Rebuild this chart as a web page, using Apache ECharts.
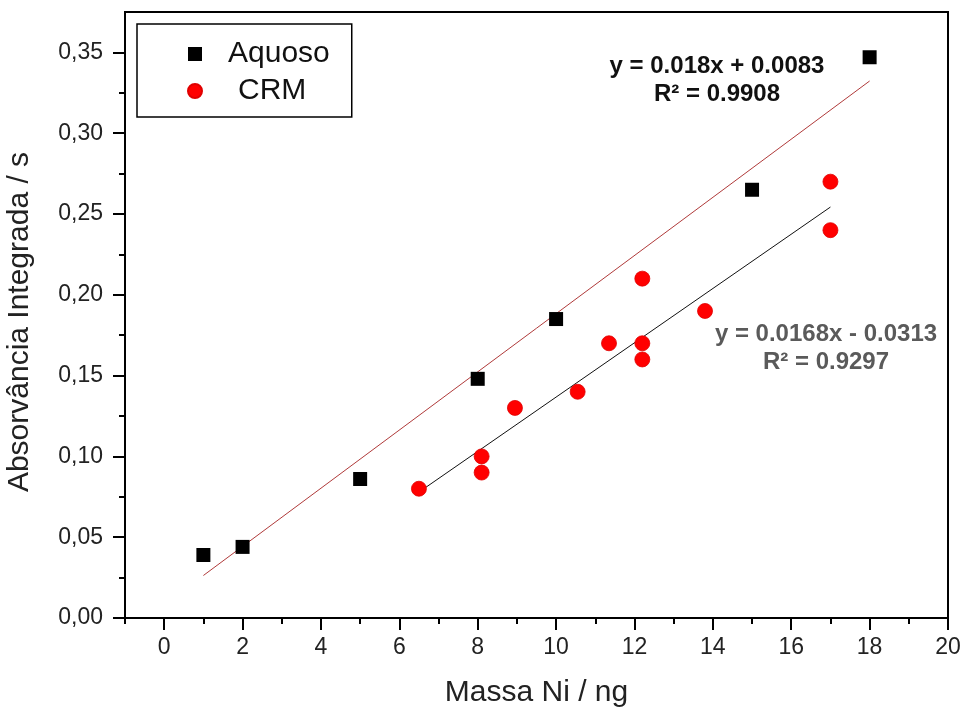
<!DOCTYPE html>
<html>
<head>
<meta charset="utf-8">
<script src="https://cdn.jsdelivr.net/npm/echarts@6/dist/echarts.min.js"></script>
<style>
  html, body { margin: 0; padding: 0; background: #fff; }
  #chart { width: 963px; height: 707px; }
</style>
</head>
<body>
<div id="chart"></div>
<script>
// Aqueous standards: nickel mass (ng) vs integrated absorbance (s)
const aquosoMass = [1, 2, 5, 8, 10, 15, 18];
const aquosoAbs  = [0.039, 0.044, 0.086, 0.148, 0.185, 0.265, 0.347];

// Certified reference material points
const crmMass = [6.5, 8.1, 8.1, 8.95, 10.55, 11.35, 12.2, 12.2, 12.2, 13.8, 17, 17];
const crmAbs  = [0.080, 0.100, 0.090, 0.130, 0.140, 0.170, 0.210, 0.170, 0.160, 0.190, 0.270, 0.240];

// Linear fits: [slope, intercept] and the x span each line covers
const aquosoFit = [0.018, 0.0083];
const aquosoFitRange = [1, 18];
const crmFit = [0.0168, -0.0313];
const crmFitRange = [6.5, 17];

// Fit annotations
const aquosoEq = ['y = 0.018x + 0.0083', 'R² = 0.9908'];
const crmEq = ['y = 0.0168x - 0.0313', 'R² = 0.9297'];

// Axis ticks
const xMajorTicks = [0, 2, 4, 6, 8, 10, 12, 14, 16, 18, 20];
const xMinorTicks = [-1, 1, 3, 5, 7, 9, 11, 13, 15, 17, 19];
const yMajorTicks = [0, 0.05, 0.10, 0.15, 0.20, 0.25, 0.30, 0.35];
const yMinorTicks = [0.025, 0.075, 0.125, 0.175, 0.225, 0.275, 0.325];

const FONT = "'Liberation Sans', Arial, Helvetica, sans-serif";

function fitLine(fit, range) {
  return range.map(x => [x, fit[0] * x + fit[1]]);
}

const chart = echarts.init(document.getElementById('chart'), null, { renderer: 'canvas' });

const xRange = { min: -1, max: 20 };
const yRange = { min: 0, max: 0.375 };

chart.setOption({
  animation: false,
  backgroundColor: '#fff',
  textStyle: { fontFamily: FONT },
  grid: {
    left: 125, right: 15, top: 12, bottom: 89,
    show: true, borderColor: '#000', borderWidth: 2,
    outerBoundsMode: 'none'
  },
  legend: {
    data: ['Aquoso', 'CRM'],
    orient: 'vertical',
    left: 137, top: 24,
    padding: [15, 22, 11, 50],
    borderColor: '#000', borderWidth: 1.5,
    itemWidth: 14, itemHeight: 14, itemGap: 7,
    formatter: name => name === 'CRM' ? '{c|' + name + '}' : '{a|' + name + '}',
    textStyle: {
      fontSize: 30, color: '#111', fontFamily: FONT,
      rich: {
        a: { fontSize: 30, color: '#111', fontFamily: FONT, padding: [0, 0, 0, 21] },
        c: { fontSize: 30, color: '#111', fontFamily: FONT, padding: [0, 0, 0, 31] }
      }
    }
  },
  xAxis: [
    {
      type: 'value', ...xRange, position: 'bottom',
      axisLine: { show: true, onZero: false, lineStyle: { color: '#000', width: 2 } },
      axisTick: { show: true, inside: false, length: 12, customValues: xMajorTicks,
                  lineStyle: { color: '#000', width: 2 } },
      axisLabel: { customValues: xMajorTicks, fontSize: 23, color: '#222', margin: 18, fontFamily: FONT },
      splitLine: { show: false },
      name: 'Massa Ni / ng', nameLocation: 'middle', nameGap: 60,
      nameTextStyle: { fontSize: 30, color: '#222', fontFamily: FONT }
    },
    {
      type: 'value', ...xRange, position: 'bottom',
      axisLine: { show: false, onZero: false },
      axisTick: { show: true, inside: false, length: 6, customValues: xMinorTicks,
                  lineStyle: { color: '#000', width: 2 } },
      axisLabel: { show: false },
      splitLine: { show: false }
    }
  ],
  yAxis: [
    {
      type: 'value', ...yRange, position: 'left',
      axisLine: { show: true, onZero: false, lineStyle: { color: '#000', width: 2 } },
      axisTick: { show: true, inside: false, length: 12, customValues: yMajorTicks,
                  lineStyle: { color: '#000', width: 2 } },
      axisLabel: { customValues: yMajorTicks, fontSize: 23, color: '#222', margin: 22, fontFamily: FONT,
                   formatter: v => v.toFixed(2).replace('.', ',') },
      splitLine: { show: false },
      name: 'Absorvância Integrada / s', nameLocation: 'middle', nameGap: 90,
      nameTextStyle: { fontSize: 30, color: '#222', fontFamily: FONT, padding: [0, 14, 0, 0] }
    },
    {
      type: 'value', ...yRange, position: 'left',
      axisLine: { show: false, onZero: false },
      axisTick: { show: true, inside: false, length: 6, customValues: yMinorTicks,
                  lineStyle: { color: '#000', width: 2 } },
      axisLabel: { show: false },
      splitLine: { show: false }
    }
  ],
  series: [
    {
      name: 'Aquoso fit', type: 'line', xAxisIndex: 0, yAxisIndex: 0,
      data: fitLine(aquosoFit, aquosoFitRange),
      symbol: 'none', silent: true, z: 1,
      lineStyle: { color: '#b03a3a', width: 1 }
    },
    {
      name: 'CRM fit', type: 'line', xAxisIndex: 0, yAxisIndex: 0,
      data: fitLine(crmFit, crmFitRange),
      symbol: 'none', silent: true, z: 1,
      lineStyle: { color: '#111', width: 1 }
    },
    {
      name: 'Aquoso', type: 'scatter', xAxisIndex: 0, yAxisIndex: 0,
      data: aquosoMass.map((m, i) => [m, aquosoAbs[i]]),
      symbol: 'rect', symbolSize: 14, z: 3,
      itemStyle: { color: '#000', opacity: 1 }
    },
    {
      name: 'CRM', type: 'scatter', xAxisIndex: 0, yAxisIndex: 0,
      data: crmMass.map((m, i) => [m, crmAbs[i]]),
      symbol: 'circle', symbolSize: 15, z: 3,
      itemStyle: { color: '#ff0000', borderColor: '#e00000', borderWidth: 0.8, opacity: 1 }
    }
  ],
  graphic: [
    {
      type: 'text', x: 717, y: 80, z: 10,
      style: {
        text: aquosoEq.join('\n'),
        font: 'bold 24px ' + FONT, lineHeight: 28,
        fill: '#111', align: 'center', verticalAlign: 'middle'
      }
    },
    {
      type: 'text', x: 826, y: 348, z: 10,
      style: {
        text: crmEq.join('\n'),
        font: 'bold 24px ' + FONT, lineHeight: 28,
        fill: '#5a5a5a', align: 'center', verticalAlign: 'middle'
      }
    }
  ]
});
</script>
</body>
</html>
